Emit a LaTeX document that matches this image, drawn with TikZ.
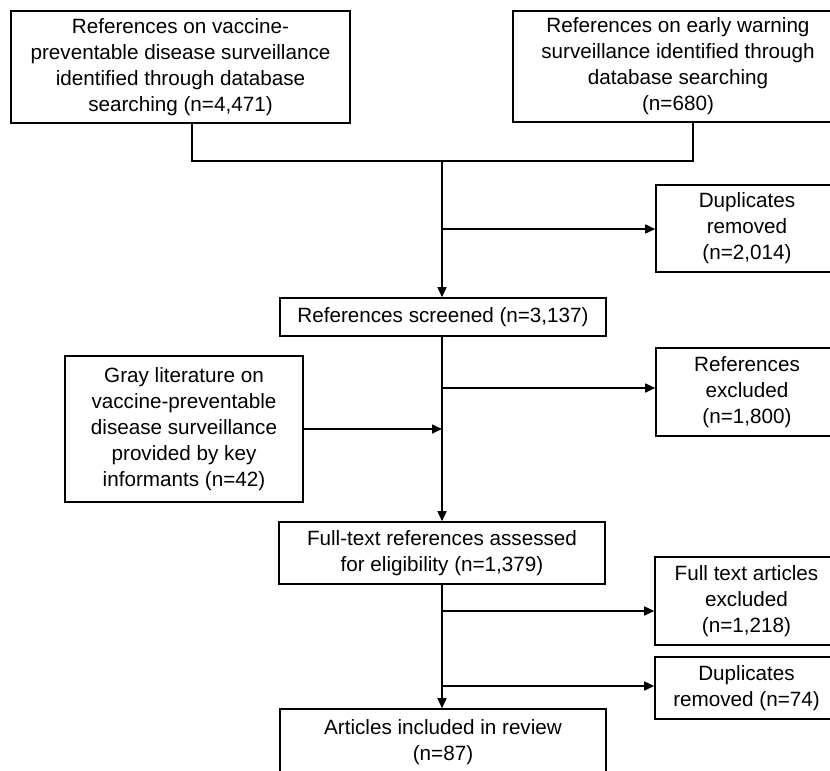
\documentclass[tikz,border=0pt]{standalone}
\usepackage{fontspec}
\setmainfont{Liberation Sans}
\usetikzlibrary{arrows.meta,positioning,calc}

\begin{document}
\begin{tikzpicture}[x=0.75pt, y=-0.75pt, >={Triangle[length=7.5pt,width=6.75pt]}]
  % styles
  \tikzstyle{box}=[rectangle, draw=black, line width=1.2pt, inner sep=0pt, align=center, font=\fontsize{15.5}{19.5}\selectfont];
  \tikzstyle{link}=[line width=1.2pt];
  \useasboundingbox (0,0) rectangle (830,770);
  \clip (0,0) rectangle (830,770);

  %==================== IDENTIFICATION ====================
  \node[box, minimum width=254.25pt, minimum height=84pt] (refvpd) at (180.5,67) {References on vaccine-\\preventable disease surveillance\\identified through database\\searching (n=4,471)};
  \node[box, minimum width=247.5pt, minimum height=83.25pt] (refew) at (678,66.5) {References on early warning\\surveillance identified through\\database searching\\(n=680)};
  \node[box, minimum width=136.5pt, minimum height=65.25pt] (dup1) at (747,228.5) {Duplicates\\removed\\(n=2,014)};

  %==================== SCREENING ====================
  \node[box, minimum width=244.5pt, minimum height=28.5pt] (screened) at (443,317) {References screened (n=3,137)};
  \node[box, minimum width=136.5pt, minimum height=66pt] (refexcl) at (747,392) {References\\excluded\\(n=1,800)};
  \node[box, minimum width=178.5pt, minimum height=109.5pt] (gray) at (184,429) {Gray literature on\\vaccine-preventable\\disease surveillance\\provided by key\\informants (n=42)};

  %==================== ELIGIBILITY / INCLUDED ====================
  \node[box, minimum width=244.5pt, minimum height=46.5pt] (fulltext) at (442,553) {Full-text references assessed\\for eligibility (n=1,379)};
  \node[box, minimum width=137.25pt, minimum height=66pt] (ftexcl) at (746.5,601) {Full text articles\\excluded\\(n=1,218)};
  \node[box, minimum width=137.25pt, minimum height=46.5pt] (dup74) at (746.5,688) {Duplicates\\removed (n=74)};
  \node[box, minimum width=244.5pt, minimum height=49.5pt] (articles) at (443,742) {Articles included in review\\(n=87)};

  % merge of the two searches
  \coordinate (mA) at ($(refvpd.south)+(11.5,0)$);
  \coordinate (mB) at ($(refew.south)+(15,0)$);
  \coordinate (join) at (442,161);
  \draw[link] (mA) |- (join) -| (mB);
  \draw[link, ->] (join) -- (join |- screened.north);

  % branch points on the main line
  \coordinate (b1) at (442,229);
  \coordinate (b2) at (442,388);
  \coordinate (b3) at (442,611);
  \coordinate (b4) at (442,686);
  \draw[link, ->] (b1) -- (b1 -| dup1.west);
  \draw[link, ->] (screened.south -| b2) -- (fulltext.north -| b2);
  \draw[link, ->] (b2) -- (b2 -| refexcl.west);
  \draw[link, ->] (gray.east) -- (gray.east -| b2);
  \draw[link, ->] (fulltext.south -| b3) -- (articles.north -| b3);
  \draw[link, ->] (b3) -- (b3 -| ftexcl.west);
  \draw[link, ->] (b4) -- (b4 -| dup74.west);
\end{tikzpicture}
\end{document}
